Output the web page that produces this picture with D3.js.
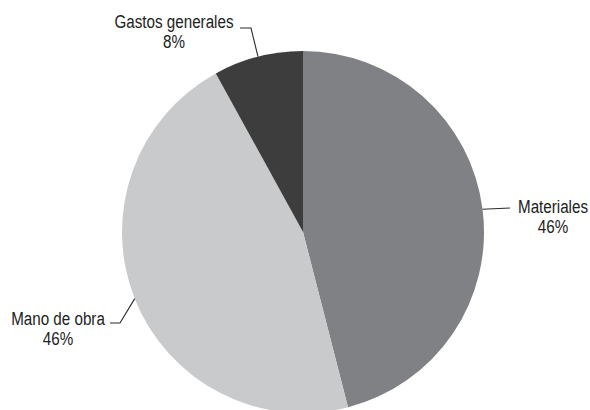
<!DOCTYPE html>
<html><head><meta charset="utf-8">
<script src="https://cdn.jsdelivr.net/npm/d3@7"></script>
<style>body{margin:0;background:#fff;} text{font-family:"Liberation Sans",Arial,sans-serif;}</style>
</head><body>
<svg id="c" width="590" height="410"></svg>
<script>
const categories = ["Materiales", "Mano de obra", "Gastos generales"];
const values = [46, 46, 8];
const valueLabels = ["46%", "46%", "8%"];
const colors = ["#808184", "#c9cacc", "#3d3d3e"];

const svg = d3.select("#c");
const cx = 303, cy = 232, r = 181;
const g = svg.append("g").attr("transform", `translate(${cx},${cy})`);
const data = categories.map((c, i) => ({cat: c, v: values[i], lab: valueLabels[i], col: colors[i]}));
const pie = d3.pie().value(d => d.v).sort(null);
const arc = d3.arc().innerRadius(0).outerRadius(r);
const arcs = pie(data);
g.selectAll("path").data(arcs).enter().append("path")
  .attr("d", arc).attr("fill", d => d.data.col);

// label layout (absolute page coords): elbow, line end, text centre & baseline
const layout = [
  {elbow: [510, 208], end: [510, 208], tx: 553, ty: 213},
  {elbow: [120, 323], end: [110, 323], tx: 58, ty: 325},
  {elbow: [251, 28], end: [240, 28], tx: 174, ty: 28}
];
const sx = 0.8;
arcs.forEach((a, i) => {
  const m = (a.startAngle + a.endAngle) / 2;
  const p = [cx + Math.sin(m) * r, cy - Math.cos(m) * r];
  const L = layout[i];
  svg.append("polyline")
    .attr("points", [p, L.elbow, L.end].map(q => q.join(",")).join(" "))
    .attr("fill", "none").attr("stroke", "#2a2a2a").attr("stroke-width", 1.1);
  const t = svg.append("text")
    .attr("transform", `translate(${L.tx},${L.ty}) scale(${sx},1)`)
    .attr("text-anchor", "middle").attr("font-size", 19).attr("fill", "#222");
  t.append("tspan").attr("x", 0).attr("y", 0).text(a.data.cat);
  t.append("tspan").attr("x", 0).attr("y", 20.5).text(a.data.lab);
});
</script>
</body></html>
